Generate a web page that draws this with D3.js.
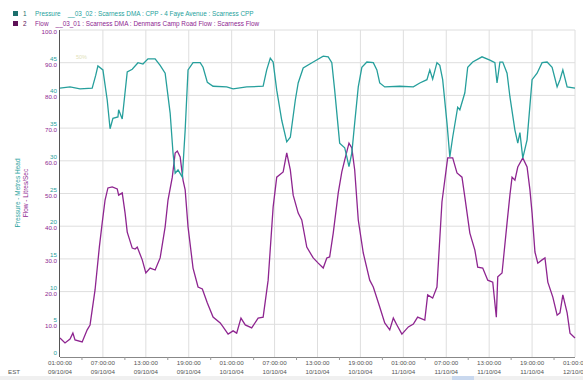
<!DOCTYPE html>
<html lang="en">
<head>
  <meta charset="UTF-8" />
  <title>Scarness DMA pressure and flow</title>
  <style>
    body { margin: 0; background: #fff; }
    svg { display: block; font-family: "Liberation Sans", Arial, sans-serif; }
  </style>
</head>
<body>
  <svg id="chart"></svg>

  <script src="https://d3js.org/d3.v7.min.js"></script>
  <script>
    // hours after 09/10/04 01:00:00
    const pressureHours = [0, 1.4, 2.8, 4.5, 5.0, 5.3, 6.0, 6.6, 7.0, 7.4, 8.1, 8.2, 8.7, 9.4, 10.1, 10.9, 11.6, 12.3, 13.3, 14.0, 14.7, 15.4, 15.8, 16.1, 16.5, 17.1, 17.5, 17.9, 18.6, 19.6, 20.0, 20.6, 21.4, 23.3, 24.2, 26.1, 28.4, 28.9, 29.4, 29.8, 30.3, 31.0, 31.7, 32.2, 32.9, 33.3, 34.0, 35.4, 36.8, 37.5, 38.0, 38.4, 39.1, 39.8, 40.1, 40.4, 40.8, 41.2, 41.7, 42.2, 42.9, 43.8, 44.3, 44.7, 45.4, 47.5, 49.4, 50.3, 51.3, 51.7, 52.1, 52.7, 53.1, 53.5, 54.1, 54.5, 54.9, 55.6, 55.9, 56.6, 57.0, 57.7, 59.0, 60.1, 60.8, 61.1, 61.5, 61.9, 62.5, 62.9, 63.6, 64.0, 64.3, 64.7, 65.3, 66.0, 66.7, 67.4, 68.1, 68.8, 69.5, 69.9, 70.3, 70.9, 72.0];
    const pressureValues = [41.1, 41.3, 41.0, 41.1, 43.1, 44.5, 43.9, 39.3, 34.9, 36.5, 36.7, 37.8, 36.4, 43.6, 44.0, 45.0, 44.8, 45.6, 45.6, 44.6, 43.4, 37.3, 31.2, 28.1, 28.6, 27.5, 34.7, 43.9, 45.0, 45.0, 44.3, 42.0, 41.4, 41.3, 41.0, 41.3, 41.4, 43.9, 45.7, 45.1, 40.8, 36.2, 32.9, 33.6, 39.3, 41.9, 44.2, 45.1, 46.0, 45.9, 45.0, 40.8, 32.7, 32.0, 30.6, 29.1, 31.2, 35.8, 41.3, 44.3, 45.1, 45.0, 43.9, 41.9, 41.3, 41.4, 41.3, 41.9, 42.4, 43.9, 42.5, 45.0, 44.6, 42.4, 35.8, 30.6, 33.6, 38.2, 37.8, 40.4, 44.3, 45.1, 45.9, 45.4, 45.0, 41.9, 45.1, 45.1, 43.4, 39.8, 34.7, 32.7, 34.3, 30.4, 33.2, 42.4, 43.4, 45.0, 45.1, 44.3, 41.3, 42.4, 43.9, 41.3, 41.1];

    const flowHours = [0, 0.7, 1.4, 1.8, 2.1, 3.1, 3.8, 4.2, 4.9, 5.5, 5.9, 6.3, 6.7, 7.3, 8.0, 8.2, 8.7, 9.1, 9.4, 10.1, 10.5, 10.8, 11.5, 12.0, 12.6, 13.3, 14.0, 14.7, 15.1, 15.7, 16.1, 16.4, 16.8, 17.2, 17.5, 17.9, 18.6, 19.3, 19.9, 20.6, 21.4, 22.4, 22.8, 23.5, 24.2, 24.7, 25.3, 25.9, 26.8, 27.7, 28.4, 29.1, 29.8, 30.3, 31.2, 31.7, 32.2, 32.6, 33.3, 33.8, 34.5, 35.4, 36.1, 36.8, 37.3, 37.7, 38.2, 38.9, 39.4, 39.8, 40.4, 40.8, 41.2, 41.7, 42.4, 43.3, 43.8, 44.7, 45.4, 46.1, 46.6, 47.1, 47.8, 48.7, 49.4, 50.0, 51.0, 51.4, 52.1, 52.7, 53.4, 54.2, 54.9, 55.5, 56.2, 56.6, 57.3, 58.0, 58.4, 59.1, 59.8, 60.5, 61.0, 61.2, 61.8, 62.5, 62.9, 63.2, 63.6, 64.0, 64.7, 65.3, 65.7, 66.0, 66.4, 66.8, 67.4, 67.8, 68.2, 68.9, 69.5, 69.9, 70.3, 70.9, 71.3, 72.0];
    const flowValues = [5.8, 4.3, 5.5, 7.3, 5.2, 4.6, 8.3, 9.8, 20.5, 33.6, 41.0, 48.0, 51.7, 52.0, 51.4, 49.5, 50.2, 44.0, 38.2, 33.3, 33.0, 33.6, 29.7, 25.7, 27.2, 26.6, 30.3, 39.8, 48.0, 55.0, 62.4, 63.0, 61.2, 54.1, 51.1, 39.8, 27.2, 21.4, 20.8, 16.5, 12.2, 10.4, 9.2, 7.0, 8.0, 7.3, 11.9, 9.8, 8.9, 11.9, 12.2, 23.5, 45.9, 55.0, 56.6, 62.4, 57.2, 49.5, 44.0, 41.9, 33.6, 30.3, 28.7, 27.2, 30.3, 30.6, 37.9, 50.2, 56.6, 60.2, 65.4, 63.9, 57.2, 41.9, 31.8, 23.5, 21.4, 15.3, 10.4, 8.3, 11.9, 9.8, 7.0, 9.2, 10.1, 12.2, 11.3, 19.0, 18.0, 21.4, 47.4, 60.9, 60.9, 56.3, 55.0, 48.9, 37.9, 32.7, 27.5, 27.2, 23.5, 22.9, 12.2, 24.5, 25.7, 41.0, 49.5, 55.0, 54.1, 58.1, 60.9, 58.1, 51.1, 44.0, 32.1, 28.7, 29.7, 30.3, 22.9, 18.3, 12.8, 13.5, 19.0, 13.5, 7.3, 5.8];

    const flowTicks = [0, 10, 20, 30, 40, 50, 60, 70, 80, 90, 100];
    const pressureTicks = [0, 5, 10, 15, 20, 25, 30, 35, 40, 45];
    const legendItems = [
      { key: "1", text: "Pressure    __03_02 : Scarness DMA : CPP - 4 Faye Avenue : Scarness CPP" },
      { key: "2", text: "Flow    __03_01 : Scarness DMA : Denmans Camp Road Flow : Scarness Flow" }
    ];

    const teal = "#269f9c", purple = "#8e2590";
    const start = new Date(2004, 9, 9, 1, 0, 0);
    const toDate = h => new Date(start.getTime() + h * 3600 * 1000);

    const W = 583, H = 380;
    const margin = { top: 30, right: 8, bottom: 23, left: 60 };
    const width = W - margin.left - margin.right;
    const height = H - margin.top - margin.bottom;

    const root = d3.select("#chart").attr("width", W).attr("height", H);
    root.append("rect").attr("width", W).attr("height", H).attr("fill", "#fff");
    const svg = root.append("g").attr("transform", `translate(${margin.left},${margin.top})`);

    const x = d3.scaleTime().domain([start, toDate(72)]).range([0, width]);
    const yFlow = d3.scaleLinear().domain([0, 100]).range([height, 0]);
    const yPres = d3.scaleLinear().domain([0, 50]).range([height, 0]);
    const xTicks = d3.range(0, 73, 6).map(toDate);
    const xMinor = d3.range(3, 72, 6).map(toDate);

    // grid
    svg.append("g").selectAll("line").data(flowTicks.slice(1))
      .join("line")
      .attr("x1", 0).attr("x2", width)
      .attr("y1", d => yFlow(d)).attr("y2", d => yFlow(d))
      .attr("stroke", "#dedede").attr("stroke-width", 1);
    svg.append("g").selectAll("line").data(xTicks.slice(1))
      .join("line")
      .attr("x1", d => x(d)).attr("x2", d => x(d))
      .attr("y1", 0).attr("y2", height)
      .attr("stroke", "#dedede").attr("stroke-width", 1);

    // lines
    const pressure = pressureHours.map((h, i) => ({ t: toDate(h), v: pressureValues[i] }));
    const flow = flowHours.map((h, i) => ({ t: toDate(h), v: flowValues[i] }));

    svg.append("path").datum(flow)
      .attr("fill", "none").attr("stroke", purple).attr("stroke-width", 1.3)
      .attr("d", d3.line().x(d => x(d.t)).y(d => yFlow(d.v)));
    svg.append("path").datum(pressure)
      .attr("fill", "none").attr("stroke", teal).attr("stroke-width", 1.3)
      .attr("d", d3.line().x(d => x(d.t)).y(d => yPres(d.v)));

    // axes
    svg.append("line").attr("x1", -0.5).attr("x2", -0.5).attr("y1", 0).attr("y2", height)
      .attr("stroke", "#555");
    svg.append("line").attr("x1", 0).attr("x2", width).attr("y1", height + 0.5).attr("y2", height + 0.5)
      .attr("stroke", "#888");

    const xAxis = svg.append("g").attr("transform", `translate(0,${height})`)
      .call(d3.axisBottom(x).tickValues(xMinor).tickSize(3).tickFormat(""));
    xAxis.select(".domain").remove();
    xAxis.selectAll("line").attr("stroke", "#999");

    const xLab = svg.append("g").attr("font-size", 6.2).attr("fill", "#555").attr("text-anchor", "middle");
    xLab.selectAll("text.time").data(xTicks).join("text").attr("class", "time")
      .attr("x", d => x(d)).attr("y", height + 8)
      .text(d3.timeFormat("%H:%M:%S"));
    xLab.selectAll("text.date").data(xTicks).join("text").attr("class", "date")
      .attr("x", d => x(d)).attr("y", height + 17)
      .text(d3.timeFormat("%d/%m/%y"));
    root.append("text").attr("x", 8).attr("y", margin.top + height + 17)
      .attr("font-size", 6.2).attr("fill", "#555").text("EST");

    const yLab = svg.append("g").attr("font-size", 6.2).attr("text-anchor", "end");
    yLab.selectAll("text.flow").data(flowTicks.slice(1)).join("text").attr("class", "flow")
      .attr("x", -3).attr("y", d => yFlow(d) + 4)
      .attr("fill", purple).text(d => d3.format(".1f")(d));
    yLab.selectAll("text.pres").data(pressureTicks).join("text").attr("class", "pres")
      .attr("x", -3).attr("y", d => yPres(d) - 2)
      .attr("fill", teal).text(d => d);

    // axis titles
    root.append("text")
      .attr("transform", `translate(20,193) rotate(-90)`)
      .attr("text-anchor", "middle").attr("font-size", 6.5).attr("fill", teal)
      .text("Pressure - Metres Head");
    root.append("text")
      .attr("transform", `translate(28,193) rotate(-90)`)
      .attr("text-anchor", "middle").attr("font-size", 6.5).attr("fill", purple)
      .text("Flow - Litres/Sec");

    // faint marker text
    svg.append("text").attr("x", 16).attr("y", 29).attr("font-size", 5.5)
      .attr("fill", "#e2e2b8").text("50%");

    // legend
    const legend = root.append("g").attr("font-size", 6.4);
    legend.selectAll("g").data(legendItems).join("g")
      .attr("transform", (d, i) => `translate(13,${11 + i * 10})`)
      .each(function (d, i) {
        const g = d3.select(this);
        g.append("rect").attr("x", 0).attr("y", 0).attr("width", 5).attr("height", 5)
          .attr("fill", i === 0 ? "#1c6f6c" : "#5e1157");
        g.append("text").attr("x", 10).attr("y", 5).attr("fill", i === 0 ? "#1c6f6c" : "#5e1157").text(d.key);
        g.append("text").attr("x", 22).attr("y", 5).attr("fill", i === 0 ? teal : purple)
          .attr("xml:space", "preserve").style("white-space", "pre").text(d.text);
      });

    // bottom strip
    root.append("rect").attr("x", 0).attr("y", 376).attr("width", W).attr("height", 4).attr("fill", "#f0f0f0");
    root.append("rect").attr("x", 452).attr("y", 376).attr("width", 22).attr("height", 4).attr("fill", "#c9d8ee");
  </script>
</body>
</html>
